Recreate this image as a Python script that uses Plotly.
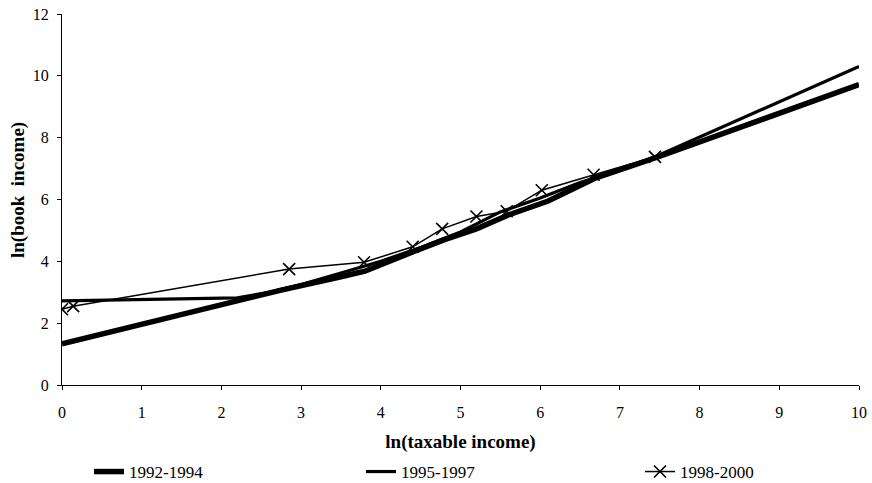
import plotly.graph_objects as go

# 1992-1994 (thick line)
x_9294 = [0.0, 1.0, 2.0, 2.75, 3.5, 3.8, 4.4, 4.8, 5.2, 5.6, 6.1, 6.7, 7.45, 10.0]
y_9294 = [1.33, 1.97, 2.62, 3.07, 3.5, 3.68, 4.3, 4.7, 5.05, 5.5, 5.95, 6.7, 7.35, 9.72]

# 1995-1997 (medium line)
x_9597 = [0.0, 1.0, 2.2, 2.6, 3.0, 3.5, 4.0, 4.5, 5.0, 5.5, 6.0, 6.5, 7.0, 7.5, 10.0]
y_9597 = [2.72, 2.76, 2.82, 3.0, 3.25, 3.62, 4.0, 4.45, 4.95, 5.6, 6.05, 6.55, 6.95, 7.45, 10.3]

# 1998-2000 (thin line with x markers)
x_9800 = [0.0, 0.14, 2.85, 3.79, 4.4, 4.77, 5.2, 5.58, 6.02, 6.67, 7.44]
y_9800 = [2.45, 2.55, 3.75, 3.97, 4.47, 5.05, 5.45, 5.62, 6.3, 6.8, 7.38]

x_ticks = list(range(0, 11))
y_ticks = [0, 2, 4, 6, 8, 10, 12]

font_family = "Liberation Serif"

fig = go.Figure()
fig.add_trace(go.Scatter(x=x_9294, y=y_9294, mode="lines", name="1992-1994",
                         line=dict(color="black", width=5.5), legend="legend"))
fig.add_trace(go.Scatter(x=x_9597, y=y_9597, mode="lines", name="1995-1997",
                         line=dict(color="black", width=3.2), legend="legend2"))
fig.add_trace(go.Scatter(x=x_9800, y=y_9800, mode="lines+markers", name="1998-2000",
                         line=dict(color="black", width=1.5),
                         marker=dict(symbol="x-thin", size=12, line=dict(color="black", width=1.6)),
                         legend="legend3"))

leg_common = dict(orientation="h", yanchor="middle", xanchor="left", yref="container",
                  xref="container", font=dict(family=font_family, size=17, color="black"),
                  bgcolor="rgba(0,0,0,0)", itemwidth=30)

fig.update_layout(
    width=872, height=483,
    margin=dict(l=62, r=13, t=14, b=98),
    paper_bgcolor="white", plot_bgcolor="white",
    font=dict(family=font_family, size=16, color="black"),
    showlegend=True,
    legend=dict(**leg_common, x=89 / 872, y=1 - 472 / 483),
    legend2=dict(**leg_common, x=361 / 872, y=1 - 472 / 483),
    legend3=dict(**leg_common, x=640 / 872, y=1 - 472 / 483),
    xaxis=dict(range=[0, 10], tickvals=x_ticks, showline=True, linecolor="black", linewidth=1,
               ticks="outside", ticklen=4, tickcolor="black", showgrid=False, zeroline=False,
               automargin=False, ticklabelstandoff=9,
               title=dict(text="<b>ln(taxable income)</b>", font=dict(size=19), standoff=14),
               tickfont=dict(size=16)),
    yaxis=dict(range=[0, 12], tickvals=y_ticks, showline=True, linecolor="black", linewidth=1,
               ticks="outside", ticklen=4, tickcolor="black", showgrid=False, zeroline=False,
               automargin=False, ticklabelstandoff=5,
               tickfont=dict(size=16)),
    annotations=[dict(text="<b>ln(book  income)</b>", textangle=-90, showarrow=False,
                      xref="paper", yref="paper", x=(18 - 62) / 797, y=(385 - 190) / 371,
                      xanchor="center", yanchor="middle",
                      font=dict(family=font_family, size=19, color="black"))],
)

fig.write_html("out.html")
